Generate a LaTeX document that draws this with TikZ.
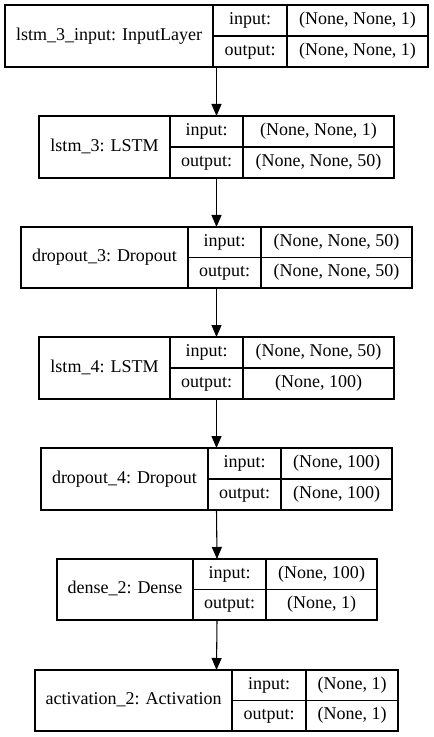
\documentclass[tikz,border=0pt]{standalone}
\usepackage{fontspec}
\setmainfont{Liberation Serif}
\usepackage{tikz}
\usetikzlibrary{arrows.meta,fit}
\definecolor{Ink}{HTML}{000000}

\begin{document}
\begin{tikzpicture}[
  x=0.75pt,y=-0.75pt,
  layer/.style={draw=Ink,line width=0.8pt,inner sep=0pt,outer sep=0pt},
  cell/.style={inner sep=0pt,text height=9.2pt,text depth=3pt,
    font=\fontsize{13.5}{16}\selectfont,color=Ink},
  flow/.style={-{Triangle[length=9pt,width=7.5pt]},line width=0.8pt,color=Ink}
]
\useasboundingbox (0,0) rectangle (433,737);

% one record box per layer: outer x, two dividers, outer x, top, bottom
\foreach \lid/\xa/\xb/\xc/\xd/\ya/\yb/\ttl/\inshape/\outshape in {
  1/5/213/287/428/5/67/{lstm\_3\_input: InputLayer}/{(None, None, 1)}/{(None, None, 1)},
  2/39/170/243/394/116/178/{lstm\_3: LSTM}/{(None, None, 1)}/{(None, None, 50)},
  3/21/188/261/412/227/288/{dropout\_3: Dropout}/{(None, None, 50)}/{(None, None, 50)},
  4/39/170/243/394/337/399/{lstm\_4: LSTM}/{(None, None, 50)}/{(None, 100)},
  5/41/208/281/392/448/510/{dropout\_4: Dropout}/{(None, 100)}/{(None, 100)},
  6/57/193/266/377/559/620/{dense\_2: Dense}/{(None, 100)}/{(None, 1)},
  7/35/232/306/398/670/731/{activation\_2: Activation}/{(None, 1)}/{(None, 1)}}
{
  \node[layer,fit={(\xa,\ya) (\xd,\yb)}] (L\lid) {};
  \draw[layer] (\xb,\ya)--(\xb,\yb) (\xc,\ya)--(\xc,\yb)
    (\xb,{(\ya+\yb)/2})--(\xd,{(\ya+\yb)/2});
  \node[cell] (T\lid) at ({(\xa+\xb)/2},{(\ya+\yb)/2}) {\ttl};
  \node[cell] (I\lid) at ({(\xb+\xc)/2},{(3*\ya+\yb)/4}) {input:};
  \node[cell] (O\lid) at ({(\xb+\xc)/2},{(\ya+3*\yb)/4}) {output:};
  \node[cell] (S\lid) at ({(\xc+\xd)/2},{(3*\ya+\yb)/4}) {\inshape};
  \node[cell] (R\lid) at ({(\xc+\xd)/2},{(\ya+3*\yb)/4}) {\outshape};
}

\foreach \a/\b in {1/2,2/3,3/4,4/5,5/6,6/7}
  \draw[flow] (L\a.south)--(L\b.north);
\end{tikzpicture}
\end{document}
